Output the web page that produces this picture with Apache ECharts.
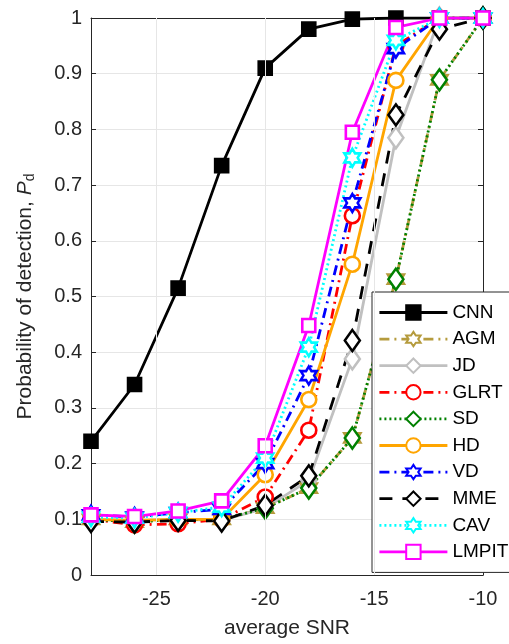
<!DOCTYPE html>
<html><head><meta charset="utf-8">
<script src="https://cdn.jsdelivr.net/npm/echarts@6/dist/echarts.min.js"></script>
<style>html,body{margin:0;padding:0;background:#fff}#c{width:509px;height:644px}</style>
</head><body><div id="c"></div>
<script>
var snr = [-28, -26, -24, -22, -20, -18, -16, -14, -12, -10];
var xTicks = [-25, -20, -15, -10];
var xGrid = [-25, -20, -15];
var names = ['CNN','AGM','JD','GLRT','SD','HD','VD','MME','CAV','LMPIT'];
var CNN   = [0.240, 0.342, 0.515, 0.735, 0.910, 0.980, 0.998, 1.000, 1.000, 1.000];
var AGM   = [0.100, 0.095, 0.100, 0.100, 0.120, 0.156, 0.246, 0.531, 0.889, 1.000];
var JD    = [0.100, 0.098, 0.100, 0.098, 0.120, 0.170, 0.388, 0.785, 1.000, 1.000];
var GLRT  = [0.100, 0.090, 0.092, 0.100, 0.140, 0.260, 0.645, 0.950, 1.000, 1.000];
var SD    = [0.100, 0.095, 0.100, 0.100, 0.120, 0.156, 0.246, 0.531, 0.889, 1.000];
var HD    = [0.100, 0.098, 0.100, 0.100, 0.180, 0.315, 0.558, 0.888, 1.000, 1.000];
var VD    = [0.108, 0.104, 0.112, 0.118, 0.200, 0.358, 0.668, 0.945, 1.000, 1.000];
var MME   = [0.096, 0.095, 0.098, 0.097, 0.125, 0.178, 0.421, 0.826, 0.980, 1.000];
var CAV   = [0.104, 0.102, 0.112, 0.122, 0.210, 0.409, 0.749, 0.960, 1.000, 1.000];
var LMPIT = [0.108, 0.105, 0.115, 0.133, 0.232, 0.448, 0.795, 0.983, 1.000, 1.000];

var hexagram = 'path://M0,-10L2.887,-5L8.66,-5L5.774,0L8.66,5L2.887,5L0,10L-2.887,5L-8.66,5L-5.774,0L-8.66,-5L-2.887,-5Z';
var dashDot = [10, 5, 2, 5];
var styles = {
  CNN:   {color:'#000000', type:'solid',  sym:'rect',    size:[13,13], fill:'#000000'},
  AGM:   {color:'#B59B3D', type:dashDot,  sym:hexagram,  size:[16,18], fill:'#ffffff'},
  JD:    {color:'#C0C0C0', type:'solid',  sym:'diamond', size:[15,21], fill:'#ffffff'},
  GLRT:  {color:'#FF0000', type:dashDot,  sym:'circle',  size:15,      fill:'#ffffff'},
  SD:    {color:'#008000', type:[2,3],    sym:'diamond', size:[15,21], fill:'#ffffff'},
  HD:    {color:'#FFA500', type:'solid',  sym:'circle',  size:15,      fill:'#ffffff'},
  VD:    {color:'#0000FF', type:dashDot,  sym:hexagram,  size:[16,18], fill:'#ffffff'},
  MME:   {color:'#000000', type:[13,10],  sym:'diamond', size:[15,21], fill:'#ffffff'},
  CAV:   {color:'#00FFFF', type:[2,3],    sym:hexagram,  size:[16,18], fill:'#ffffff'},
  LMPIT: {color:'#FF00FF', type:'solid',  sym:'rect',    size:[13,13], fill:'#ffffff'}
};
var values = {CNN:CNN, AGM:AGM, JD:JD, GLRT:GLRT, SD:SD, HD:HD, VD:VD, MME:MME, CAV:CAV, LMPIT:LMPIT};

var series = [{
  type:'line', data:[], silent:true, z:0,
  markLine:{silent:true, symbol:'none', label:{show:false}, animation:false,
    lineStyle:{color:'#e6e6e6', width:1, type:'solid'},
    data: xGrid.map(function(v){return {xAxis:v};})}
}];
names.forEach(function(n){
  var s = styles[n];
  series.push({
    name:n, type:'line',
    data: snr.map(function(x,i){return [x, values[n][i]];}),
    symbol:s.sym, symbolSize:s.size, showAllSymbol:true,
    lineStyle:{color:s.color, width:2.8, type:s.type},
    itemStyle:{color:s.fill, borderColor:s.color, borderWidth:2.6},
    emphasis:{disabled:true}, animation:false
  });
});

var FONT = 'Liberation Sans, Arial, sans-serif';
var axisColor = '#262626';
var chart = echarts.init(document.getElementById('c'));
chart.setOption({
  backgroundColor:'#ffffff',
  animation:false,
  grid:{left:91, right:26, top:18, bottom:67},
  legend:{
    data:names, orient:'vertical', left:372, top:292,
    backgroundColor:'#ffffff', borderColor:'#262626', borderWidth:1,
    padding:[11, 40, 11, 6], itemWidth:68, itemHeight:18, itemGap:7.6,
    lineStyle:{width:2.8},
    textStyle:{fontFamily:FONT, fontSize:19, color:'#000'},
    selectedMode:false
  },
  xAxis:[{
    type:'value', min:-28, max:-10, position:'bottom',
    name:'average SNR', nameLocation:'middle', nameGap:43,
    nameTextStyle:{fontFamily:FONT, fontSize:21, color:axisColor},
    axisLine:{show:true, onZero:false, lineStyle:{color:axisColor, width:1}},
    axisTick:{show:true, inside:true, length:5, customValues:xTicks, lineStyle:{color:axisColor}},
    axisLabel:{customValues:xTicks, margin:14, fontFamily:FONT, fontSize:20, color:axisColor},
    splitLine:{show:false}
  },{
    type:'value', min:-28, max:-10, position:'top',
    axisLine:{show:true, onZero:false, lineStyle:{color:axisColor, width:1}},
    axisTick:{show:true, inside:true, length:5, customValues:xTicks, lineStyle:{color:axisColor}},
    axisLabel:{show:false}, splitLine:{show:false}
  }],
  yAxis:[{
    type:'value', min:0, max:1, interval:0.1, position:'left',
    name:'{a|Probability of detection, }{b|P}{c|d}', nameLocation:'middle', nameGap:54, nameRotate:90,
    nameTextStyle:{rich:{
      a:{fontFamily:FONT, fontSize:21, color:axisColor},
      b:{fontFamily:FONT, fontSize:21, fontStyle:'italic', color:axisColor},
      c:{fontFamily:FONT, fontSize:14, color:axisColor, verticalAlign:'bottom', padding:[10,0,0,0]}
    }},
    axisLine:{show:true, lineStyle:{color:axisColor, width:1}},
    axisTick:{show:true, inside:true, length:5, lineStyle:{color:axisColor}},
    axisLabel:{margin:9, fontFamily:FONT, fontSize:20, color:axisColor,
      formatter:function(v){return v===0||v===1?String(v):v.toFixed(1);}},
    splitLine:{show:true, lineStyle:{color:'#e6e6e6', width:1}}
  },{
    type:'value', min:0, max:1, interval:0.1, position:'right',
    axisLine:{show:true, lineStyle:{color:axisColor, width:1}},
    axisTick:{show:true, inside:true, length:5, lineStyle:{color:axisColor}},
    axisLabel:{show:false}, splitLine:{show:false}
  }],
  series: series
});
</script></body></html>
